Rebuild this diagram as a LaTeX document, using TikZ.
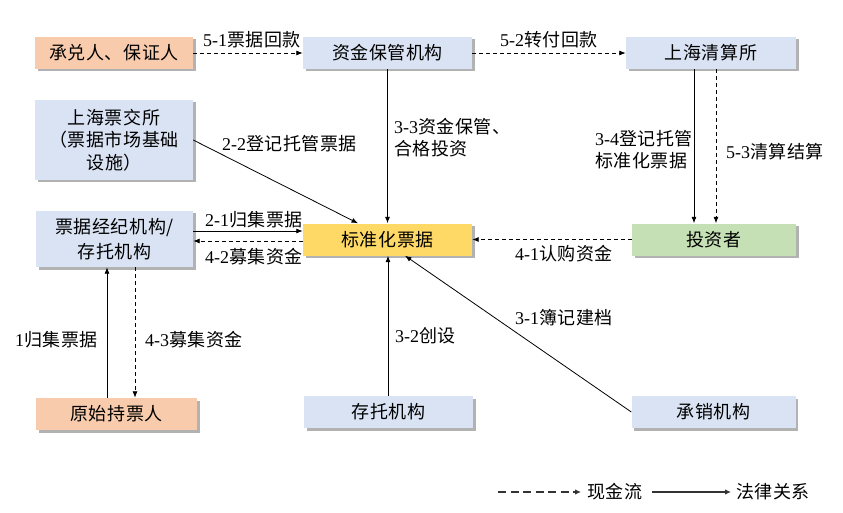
\documentclass[tikz,border=0pt]{standalone}
\usepackage{fontspec}
\setmainfont{Liberation Serif}
\newfontfamily\cjk[LetterSpace=3]{Noto Sans CJK SC}
\usetikzlibrary{arrows.meta,shadows}
\definecolor{boxblue}{HTML}{DAE3F3}
\definecolor{boxorange}{HTML}{F8CBAD}
\definecolor{boxyellow}{HTML}{FFD966}
\definecolor{boxgreen}{HTML}{C5E0B4}
\begin{document}
\begin{tikzpicture}[x=1pt,y=-1pt,
  every node/.style={font=\fontsize{18}{22}\selectfont, inner sep=0pt},
  box/.style={draw=none, fill=#1, minimum height=32pt, inner sep=0pt,
    font=\fontsize{18}{23}\selectfont\cjk, align=center,
    drop shadow={shadow xshift=2.5pt, shadow yshift=-2.5pt, fill=black, opacity=0.3}},
  legal/.style={draw=black, line width=0.8pt, -{Latex[length=6.5pt,width=5pt]}},
  cash/.style={legal, dash pattern=on 4pt off 3pt},
  legendcash/.style={draw=black!80, line width=1.1pt, dash pattern=on 8pt off 4.5pt, -{Latex[length=6pt,width=5.5pt]}},
  legendlegal/.style={draw=black!80, line width=1.1pt, -{Latex[length=6pt,width=5.5pt]}},
]
\useasboundingbox (0,0) rectangle (843,513);
\fill[white] (0,0) rectangle (843,513);

\node[box=boxorange, minimum width=158pt] (A) at (114,53) {承兑人、保证人};
\node[box=boxblue, minimum width=169pt] (B) at (387.5,53) {资金保管机构};
\node[box=boxblue, minimum width=170pt] (C) at (711,53) {上海清算所};
\node[box=boxblue, minimum width=158pt, minimum height=80pt, font=\fontsize{18}{22.5}\selectfont\cjk] (D) at (114,140) {上海票交所\\（票据市场基础\\设施）};
\node[box=boxblue, minimum width=157pt, minimum height=56pt, font=\fontsize{18}{25}\selectfont\cjk] (E) at (114.5,239) {票据经纪机构/\\存托机构};
\node[box=boxyellow, minimum width=169pt] (F) at (387.5,239.5) {标准化票据};
\node[box=boxgreen, minimum width=164pt] (G) at (714,239.5) {投资者};
\node[box=boxorange, minimum width=161pt] (H) at (116.5,414) {原始持票人};
\node[box=boxblue, minimum width=169pt] (I) at (388.5,412) {存托机构};
\node[box=boxblue, minimum width=164pt] (J) at (713.5,412) {承销机构};

\coordinate (x107) at (107,0);
\coordinate (x135) at (135,0);
\coordinate (x358) at (358,0);
\coordinate (x388) at (388,0);
\coordinate (x405) at (405,0);
\coordinate (x694) at (694,0);
\coordinate (x716) at (716,0);
\coordinate (y231) at (0,231);
\coordinate (y241) at (0,241);

\draw[cash] (A.east) -- (B.west);
\draw[cash] (B.east) -- (C.west);
\draw[legal] (B.south) -- (F.north);
\draw[legal] (C.south -| x694) -- (G.north -| x694);
\draw[cash] (C.south -| x716) -- (G.north -| x716);
\draw[legal] (D.east) -- (F.north -| x358);
\draw[legal] (E.east |- y231) -- (F.west |- y231);
\draw[cash] (F.west |- y241) -- (E.east |- y241);
\draw[cash] (G.west) -- (F.east);
\draw[legal] (H.north -| x107) -- (E.south -| x107);
\draw[cash] (E.south -| x135) -- (H.north -| x135);
\draw[legal] (I.north -| x388) -- (F.south -| x388);
\draw[legal] (J.west) -- (F.south -| x405);

\node (l51) at (252,40) {5-1{\cjk 票据回款}};
\node (l52) at (549,40) {5-2{\cjk 转付回款}};
\node[anchor=west, align=left] (l33) at (394,138) {3-3{\cjk 资金保管、}\\{\cjk 合格投资}};
\node[anchor=west, align=left] (l34) at (595,150) {3-4{\cjk 登记托管}\\{\cjk 标准化票据}};
\node[anchor=west] (l53) at (726,152) {5-3{\cjk 清算结算}};
\node[anchor=west] (l22) at (222,144) {2-2{\cjk 登记托管票据}};
\node[anchor=west] (l21) at (205,220) {2-1{\cjk 归集票据}};
\node[anchor=west] (l42) at (205,257) {4-2{\cjk 募集资金}};
\node[anchor=west] (l41) at (515,254) {4-1{\cjk 认购资金}};
\node[anchor=west] (l1) at (15,340) {1{\cjk 归集票据}};
\node[anchor=west] (l43) at (145,340) {4-3{\cjk 募集资金}};
\node[anchor=west] (l32) at (395,336) {3-2{\cjk 创设}};
\node[anchor=west] (l31) at (515,318) {3-1{\cjk 簿记建档}};

\coordinate (c1) at (498,492);
\coordinate (c2) at (581,492);
\coordinate (c3) at (652,492);
\coordinate (c4) at (731,492);
\draw[legendcash] (c1) -- (c2);
\node[anchor=west] (t1) at (587,492) {\cjk 现金流};
\draw[legendlegal] (c3) -- (c4);
\node[anchor=west] (t2) at (736,492) {\cjk 法律关系};
\end{tikzpicture}
\end{document}
